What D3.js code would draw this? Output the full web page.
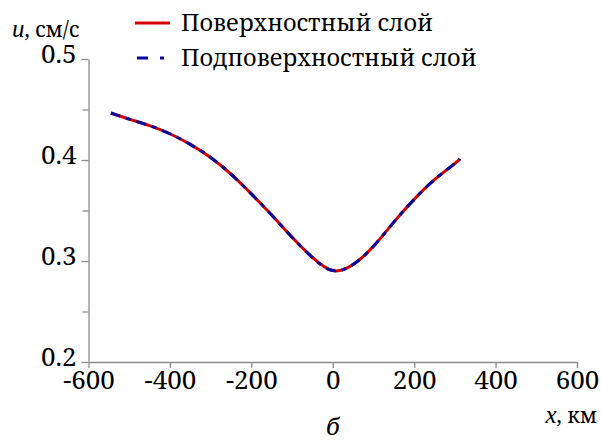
<!DOCTYPE html>
<html>
<head>
<meta charset="utf-8">
<script src="https://cdn.jsdelivr.net/npm/d3@7"></script>
<style>
  body { margin: 0; background: #fff; }
</style>
</head>
<body>
<div id="chart"></div>
<script>
// distance along the section, km
var xKm = [-545, -500, -450, -400, -350, -300, -250, -200, -150, -100, -50, 0, 50, 100, 150, 200, 250, 300, 312];
// velocity, cm/s (both layers practically coincide)
var uSurface = [0.4465, 0.4405, 0.4340, 0.4260, 0.4155, 0.4025, 0.3860, 0.3665, 0.3455, 0.3235, 0.3035, 0.2905, 0.2965, 0.3145, 0.3385, 0.3610, 0.3805, 0.3965, 0.4010];
var uSubsurface = [0.4465, 0.4405, 0.4340, 0.4260, 0.4155, 0.4025, 0.3860, 0.3665, 0.3455, 0.3235, 0.3035, 0.2905, 0.2965, 0.3145, 0.3385, 0.3610, 0.3805, 0.3965, 0.4010];
var xTicks = [-600, -400, -200, 0, 200, 400, 600];
var yTicks = [0.2, 0.3, 0.4, 0.5];
var yMinor = [0.25, 0.35, 0.45];
var seriesNames = ["Поверхностный слой", "Подповерхностный слой"];

var width = 601, height = 442;
var axisColor = "#8c8c8c";
var serif = "'Noto Serif', 'DejaVu Serif', serif";
var latin = "'Liberation Serif', 'Noto Serif', serif";

var svg = d3.select("#chart").append("svg")
  .attr("width", width)
  .attr("height", height)
  .style("font-family", serif);

var x = d3.scaleLinear().domain([-600, 600]).range([88.5, 577]);
var y = d3.scaleLinear().domain([0.2, 0.5]).range([362, 59]);

// x axis
var gx = svg.append("g")
  .attr("transform", "translate(0," + y(0.2) + ")")
  .call(d3.axisBottom(x).tickValues(xTicks).tickFormat(d3.format("d"))
    .tickSize(6).tickSizeOuter(0).tickPadding(3));
gx.attr("font-family", null);
gx.selectAll("text").style("font-size", "26px").style("font-family", serif)
  .attr("fill", "#000").text(function (d) { return String(d); });

// y axis
var gy = svg.append("g")
  .attr("transform", "translate(" + x(-600) + ",0)")
  .call(d3.axisLeft(y).tickValues(yTicks).tickFormat(d3.format(".1f"))
    .tickSize(7).tickSizeOuter(0).tickPadding(5));
gy.attr("font-family", null);
gy.selectAll("text").style("font-size", "26px").style("font-family", serif)
  .attr("fill", "#000").attr("dy", "0.15em");

svg.append("g")
  .attr("transform", "translate(" + x(-600) + ",0)")
  .call(d3.axisLeft(y).tickValues(yMinor).tickFormat("").tickSize(6).tickSizeOuter(0))
  .select(".domain").remove();

svg.selectAll(".domain, .tick line").attr("stroke", axisColor).attr("stroke-width", 1.3);

// curves
var line = d3.line()
  .x(function (d) { return x(d[0]); })
  .y(function (d) { return y(d[1]); })
  .curve(d3.curveNatural);

svg.append("path")
  .datum(d3.zip(xKm, uSurface))
  .attr("fill", "none")
  .attr("stroke", "#d40000")
  .attr("stroke-width", 3)
  .attr("d", line);

svg.append("path")
  .datum(d3.zip(xKm, uSubsurface))
  .attr("fill", "none")
  .attr("stroke", "#0a0a9a")
  .attr("stroke-width", 3)
  .attr("stroke-dasharray", "10,6,5,6")
  .attr("d", line);

// legend
var legend = svg.append("g");
legend.append("line").attr("x1", 135).attr("x2", 170).attr("y1", 23).attr("y2", 23)
  .attr("stroke", "#d40000").attr("stroke-width", 3);
legend.append("line").attr("x1", 137).attr("x2", 170).attr("y1", 58).attr("y2", 58)
  .attr("stroke", "#0a0a9a").attr("stroke-width", 3).attr("stroke-dasharray", "11,12,4,20");
legend.append("text").attr("x", 181).attr("y", 31).style("font-size", "23.5px").text(seriesNames[0]);
legend.append("text").attr("x", 181).attr("y", 66).style("font-size", "23.5px").text(seriesNames[1]);

// axis titles
var yt = svg.append("text").attr("x", 12).attr("y", 37).style("font-size", "21px");
yt.append("tspan").style("font-style", "italic").style("font-family", latin).style("font-size", "25px").text("u");
yt.append("tspan").text(", см/с");

var xt = svg.append("text").attr("x", 597).attr("y", 423).attr("text-anchor", "end").style("font-size", "21px");
xt.append("tspan").style("font-style", "italic").style("font-family", latin).style("font-size", "25px").text("x");
xt.append("tspan").text(", км");

svg.append("text").attr("x", 333).attr("y", 435).attr("text-anchor", "middle")
  .style("font-size", "24px").style("font-style", "italic").text("б");
</script>
</body>
</html>
